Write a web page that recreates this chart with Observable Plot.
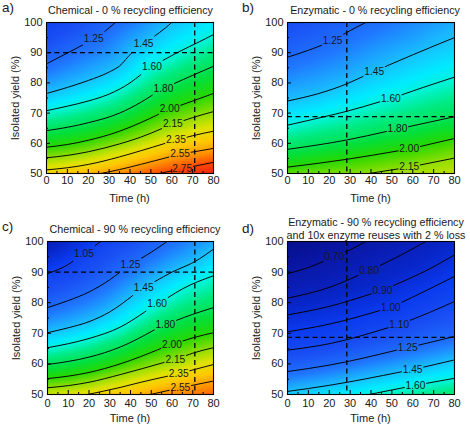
<!DOCTYPE html>
<html><head><meta charset="utf-8">
<script src="https://cdn.jsdelivr.net/npm/d3@7"></script>
<script src="https://cdn.jsdelivr.net/npm/@observablehq/plot@0.6"></script>
<style>
body{margin:0;background:#fff;}
#wrap{position:relative;width:470px;height:425px;font-family:"Liberation Sans",Arial,sans-serif;color:#1a1a1a;overflow:hidden;}
.title{position:absolute;font-size:10.7px;white-space:nowrap;transform:translateX(-50%);line-height:1;}
.letter{position:absolute;font-size:13.5px;line-height:1;}
.axlab{position:absolute;font-size:11px;white-space:nowrap;line-height:1;transform:translate(-50%,-50%);}
.axlab.rot{transform:translate(-50%,-50%) rotate(-90deg);}
svg text{font-weight:normal;}
</style></head><body><div id="wrap"></div>
<script>
// ---------- shared axis ticks ----------
const timeTicks = [0,10,20,30,40,50,60,70,80];
const timeMinor = [5,15,25,35,45,55,65,75];
const yieldTicks = [50,60,70,80,90,100];
const yieldMinor = [55,65,75,85,95];
const xTitle = "Time (h)";
const yTitle = "Isolated yield (%)";

// ---------- colour scale (cost value -> colour) ----------
const colorStops = [0.55,0.70,0.85,1.00,1.15,1.30,1.45,1.55,1.62,1.72,1.85,2.00,2.15,2.30,2.45,2.60,2.75,2.90];
const colorRange = ["#060c88","#0a18a8","#0826c8","#0a3aee","#1a50f4","#2078ff","#18c0ff","#00ecff","#00f4d0","#00ea80","#00e040","#28d800","#90de00","#dfe300","#ffc800","#ff9000","#ff4800","#e81818"];

// ---------- panel a: Chemical - 0 % ----------
const aLevels = [1.25,1.45,1.60,1.80,2.00,2.15,2.35,2.55,2.75];
const aLines = [
  [[0,86.3],[10,89.9],[20,93.5],[27,96.5],[33,100]],
  [[0,76.5],[10,78.5],[20,80.8],[30,83.6],[35,85.6],[41,90],[47,93.2],[54,96.6],[60,100]],
  [[0,70.8],[10,72.3],[20,74],[30,76.3],[40,80],[50.5,85.5],[64,90.5],[72,93.2],[80,96]],
  [[0,64.2],[10,65.3],[20,66.8],[35,70],[45,73.5],[56,78.2],[70,82.5],[80,85.5]],
  [[0,58.7],[10,59.6],[20,61],[35,64],[45,66.8],[59,71.3],[70,74],[80,76.5]],
  [[0,55.2],[10,56],[20,57.2],[35,59.8],[45,62],[60,66.2],[70,68.5],[80,70.5]],
  [[0,51.2],[10,51.9],[20,53],[35,55.5],[45,57.5],[61.7,61],[70,62.5],[80,64]],
  [[26,50],[35,51.3],[45,53],[64,56.4],[80,58.3]],
  [[54,50],[65,51.6],[80,53.7]]
];
const aLabelTime = [22.6,46.5,50.5,56,59,60.5,62,64,65];
const aCorners = [[0,100,1.05],[80,100,1.55],[0,50,2.40],[80,50,2.86]];
const aGuide = {t:71, y:90};

// ---------- panel b: Enzymatic - 0 % ----------
const bLevels = [1.25,1.45,1.60,1.80,2.00,2.15];
const bLines = [
  [[0,88.5],[10,90.8],[20,93.4],[28.4,96.7],[37.5,100]],
  [[0,74],[15,76.5],[28.4,79.7],[41.5,83.8],[60,89.3],[80,95]],
  [[0,66],[17.6,68.8],[28.4,70.6],[49.5,74.8],[65,78.5],[80,81.9]],
  [[0,58],[28.4,61.1],[52.7,64.7],[68,67],[80,68.8]],
  [[0,52.1],[28.4,54.7],[58.3,58.1],[80,61.6]],
  [[39,50],[58.3,52.1],[80,55.1]]
];
const bLabelTime = [21.6,41.5,49.5,52.7,58.3,58.3];
const bCorners = [[0,100,1.13],[80,100,1.41],[0,50,2.07],[80,50,2.24]];
const bGuide = {t:28.4, y:68.8};

// ---------- panel c: Chemical - 90 % ----------
const cLevels = [1.05,1.25,1.45,1.60,1.80,2.00,2.15,2.35,2.55];
const cLines = [
  [[0,89.5],[10,92.5],[17.6,95.9],[25.6,100]],
  [[0,78.4],[10,80.7],[20,83.5],[30,87.5],[35,90],[42,93.2],[50,96.5],[57.6,100]],
  [[0,70.2],[10,71.8],[20,73.8],[30,77],[46.4,84.9],[60,90],[70.9,93.4],[80,97.5]],
  [[0,65.3],[10,66.6],[20,68.3],[35,72],[52.8,79.5],[65,84.5],[80,88.8]],
  [[0,59.8],[10,60.8],[20,62.2],[35,65.5],[56.8,72.9],[70,76.2],[80,78.4]],
  [[0,55.2],[10,56],[20,57.2],[35,60],[60,66.4],[70,68.5],[80,70.2]],
  [[0,52.2],[10,52.9],[20,54],[35,56.5],[61.6,61.5],[70,63.5],[80,65.3]],
  [[19.2,50],[35,52.3],[45,54],[63.2,56.8],[80,59.8]],
  [[49.6,50],[64,52.2],[80,54.4]]
];
const cLabelTime = [17.6,40,46.4,52.8,56.8,60,61.6,63.2,64];
const cCorners = [[0,100,0.76],[80,100,1.40],[0,50,2.27],[80,50,2.70]];
const cGuide = {t:71, y:90};

// ---------- panel d: Enzymatic - 90 % + reuse ----------
const dLevels = [0.70,0.80,0.90,1.00,1.10,1.25,1.45,1.60];
const dLines = [
  [[0,89.5],[10,91.5],[22.4,94.9],[30,97.3],[37.5,100]],
  [[0,81.5],[20,85],[39.1,90.4],[55,95.8],[66.3,100]],
  [[0,76],[20,78.8],[45.5,84],[65,90],[80,95.6]],
  [[0,70.5],[20,73],[49.5,78.4],[65,83.5],[80,88.6]],
  [[0,64.5],[20,66.6],[53.5,72.8],[68,76.8],[80,80.4]],
  [[0,57.5],[20,59.6],[57.6,65.3],[70,67.3],[80,69]],
  [[0,51],[20,53],[59.9,58.1],[80,61.3]],
  [[39,50],[61.3,53],[80,55.3]]
];
const dLabelTime = [22.4,39.1,45.5,49.5,53.5,57.6,59.9,61.3];
const dCorners = [[0,100,0.58],[80,100,0.87],[0,50,1.48],[80,50,1.76]];
const dGuide = {t:28.4, y:68.7};

// ---------- helpers ----------
function interp(pts, t) {
  if (t <= pts[0][0]) return pts[0][1];
  for (let i = 1; i < pts.length; i++) {
    if (t <= pts[i][0]) {
      const [t0,y0] = pts[i-1], [t1,y1] = pts[i];
      return y0 + (y1 - y0) * (t - t0) / (t1 - t0);
    }
  }
  return pts[pts.length-1][1];
}

const wrap = document.getElementById("wrap");
function addDiv(cls, text, x, y) {
  const d = document.createElement("div");
  d.className = cls; d.textContent = text;
  d.style.left = x + "px"; d.style.top = y + "px";
  wrap.append(d);
}

function panel(cfg) {
  const {levels, lines, labelTime, corners, guide, left, top, width, height, mL, mR, mT, mB, tickPad, xLabelGap} = cfg;
  const plotW = width - mL - mR, plotH = height - mT - mB;
  const pxPerT = plotW / 80;
  const labelFont = 10.2;
  const field = [];
  lines.forEach((pts, i) => {
    const t0 = pts[0][0], t1 = pts[pts.length-1][0];
    for (let t = t0; t < t1; t += 1.5) field.push({t, y: interp(pts, t), v: levels[i]});
    field.push({t: t1, y: pts[pts.length-1][1], v: levels[i]});
  });
  corners.forEach(c => field.push({t: c[0], y: c[1], v: c[2]}));
  const segs = [], labs = [];
  lines.forEach((pts, i) => {
    const s = levels[i].toFixed(2);
    const wpx = (s.length - 1) * 0.556 * labelFont + 0.278 * labelFont;
    const half = (wpx / 2 + 1.2) / pxPerT;
    const tl = labelTime[i];
    const a = tl - half, b = tl + half;
    const L = pts.filter(p => p[0] < a).concat([[a, interp(pts, a)]]);
    const R = [[b, interp(pts, b)]].concat(pts.filter(p => p[0] > b));
    L.forEach(p => segs.push({t: p[0], y: p[1], k: i + "L"}));
    R.forEach(p => segs.push({t: p[0], y: p[1], k: i + "R"}));
    labs.push({t: tl, y: interp(pts, tl), s});
  });
  const svg = Plot.plot({
    width, height,
    marginLeft: mL, marginRight: mR, marginTop: mT, marginBottom: mB,
    style: {fontFamily: '"Liberation Sans", Arial, sans-serif', fontSize: "11px", fontWeight: "normal", color: "#1a1a1a", background: "transparent", overflow: "visible"},
    x: {domain: [0, 80]},
    y: {domain: [50, 100]},
    color: {type: "linear", domain: colorStops, range: colorRange, interpolate: "rgb"},
    marks: [
      Plot.raster(field, {x: "t", y: "y", fill: "v", interpolate: "barycentric", x1: 0, x2: 80, y1: 50, y2: 100}),
      Plot.line(segs, {x: "t", y: "y", z: "k", stroke: "#000", strokeWidth: 0.95, curve: "monotone-x", clip: true}),
      Plot.text(labs, {x: "t", y: "y", text: "s", fontSize: labelFont, fill: "#1a1a1a"}),
      Plot.ruleX([guide.t], {stroke: "#000", strokeWidth: 1.3, strokeDasharray: "5,3.5"}),
      Plot.ruleY([guide.y], {stroke: "#000", strokeWidth: 1.3, strokeDasharray: "5,3.5"}),
      Plot.ruleX(timeTicks, {stroke: "#000", insetTop: plotH - 4}),
      Plot.ruleX(timeMinor, {stroke: "#000", insetTop: plotH - 2}),
      Plot.ruleY(yieldTicks, {stroke: "#000", insetRight: plotW - 4}),
      Plot.ruleY(yieldMinor, {stroke: "#000", insetRight: plotW - 2}),
      Plot.frame({stroke: "#000", strokeWidth: 1.1}),
      Plot.axisX(timeTicks, {tickSize: 0, tickPadding: tickPad, label: null, fontSize: 11}),
      Plot.axisY(yieldTicks, {tickSize: 0, tickPadding: 4, label: null, fontSize: 11})
    ]
  });
  svg.style.position = "absolute";
  svg.style.left = left + "px";
  svg.style.top = top + "px";
  wrap.append(svg);
  // axis titles
  addDiv("axlab", xTitle, left + mL + plotW / 2, top + height - mB + xLabelGap);
  const ylab = document.createElement("div");
  ylab.className = "axlab rot"; ylab.textContent = yTitle;
  ylab.style.left = (left + mL - 31) + "px"; ylab.style.top = (top + mT + plotH / 2) + "px";
  wrap.append(ylab);
}

panel({levels: aLevels, lines: aLines, labelTime: aLabelTime, corners: aCorners, guide: aGuide,
  left: 0, top: 0, width: 235, height: 212, mL: 46, mR: 22, mT: 22, mB: 39, tickPad: 2.5, xLabelGap: 25});
panel({levels: bLevels, lines: bLines, labelTime: bLabelTime, corners: bCorners, guide: bGuide,
  left: 235, top: 0, width: 235, height: 212, mL: 52, mR: 16, mT: 22, mB: 39, tickPad: 2.5, xLabelGap: 25});
panel({levels: cLevels, lines: cLines, labelTime: cLabelTime, corners: cCorners, guide: cGuide,
  left: 0, top: 212, width: 235, height: 213, mL: 47, mR: 22, mT: 29, mB: 31, tickPad: 5, xLabelGap: 24});
panel({levels: dLevels, lines: dLines, labelTime: dLabelTime, corners: dCorners, guide: dGuide,
  left: 235, top: 212, width: 235, height: 213, mL: 52, mR: 16, mT: 29, mB: 31, tickPad: 5, xLabelGap: 24});

const titles = [
  {text: "Chemical - 0 % recycling efficiency", x: 130.5, y: 10},
  {text: "Enzymatic - 0 % recycling efficiency", x: 375, y: 10},
  {text: "Chemical - 90 % recycling efficiency", x: 135, y: 229},
  {text: "Enzymatic - 90 % recycling efficiency", x: 376, y: 222},
  {text: "and 10x enzyme reuses with 2 % loss", x: 376, y: 235}
];
titles.forEach(t => addDiv("title", t.text, t.x, t.y - 5.5));
const letters = [
  {text: "a)", x: 2, y: 8}, {text: "b)", x: 242, y: 8},
  {text: "c)", x: 2, y: 227}, {text: "d)", x: 242, y: 229}
];
letters.forEach(t => addDiv("letter", t.text, t.x, t.y - 7));
</script></body></html>
